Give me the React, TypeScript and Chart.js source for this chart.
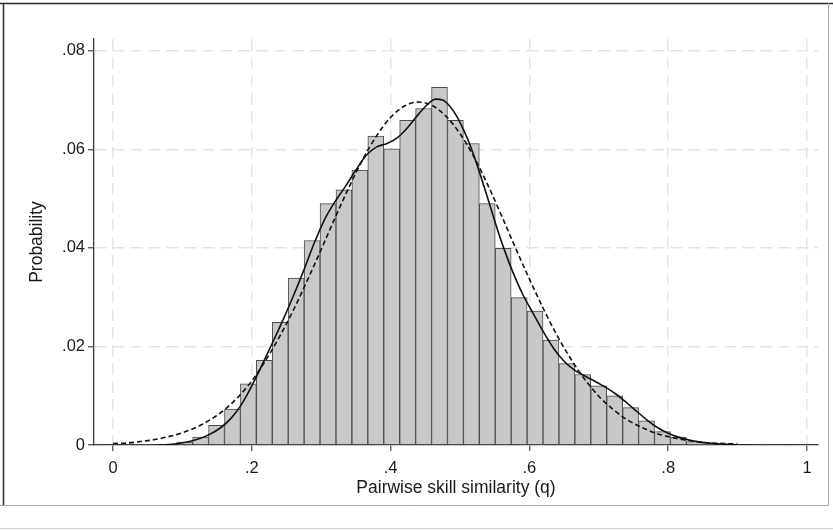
import { useEffect, useRef } from "react";
import { Chart, registerables } from "chart.js";

Chart.register(...registerables);

// Histogram of pairwise skill similarity: equal-width bins starting at BIN_START
const BIN_START = 0.0918;
const BIN_WIDTH = 0.02295;
const binHeights = [
  0.0006, 0.0016, 0.004, 0.0073, 0.0124, 0.0172, 0.0249, 0.0339, 0.0415, 0.049,
  0.0518, 0.0558, 0.0627, 0.0601, 0.0659, 0.0683, 0.0726, 0.0659, 0.0612, 0.049,
  0.0399, 0.0299, 0.0272, 0.0213, 0.0165, 0.0143, 0.012, 0.01, 0.0076, 0.0049,
  0.0027, 0.0016, 0.0007, 0.0003, 0.0002, 0.0001,
];

// Normal density overlay (dashed)
const normalX = [
  0, 0.02, 0.04, 0.06, 0.08, 0.1, 0.12, 0.14, 0.16, 0.18, 0.2, 0.22, 0.24, 0.26,
  0.28, 0.3, 0.32, 0.34, 0.36, 0.38, 0.4, 0.42, 0.44, 0.46, 0.48, 0.5, 0.52, 0.54,
  0.56, 0.58, 0.6, 0.62, 0.64, 0.66, 0.68, 0.7, 0.72, 0.74, 0.76, 0.78, 0.8, 0.82,
  0.84, 0.86, 0.88, 0.9,
];
const normalY = [
  0.0003, 0.0004, 0.0007, 0.0011, 0.0017, 0.0025, 0.0036, 0.0051, 0.0071, 0.0097,
  0.013, 0.0172, 0.022, 0.0274, 0.0334, 0.0397, 0.0461, 0.0523, 0.058, 0.0628,
  0.0665, 0.0688, 0.0696, 0.0689, 0.0667, 0.0632, 0.0585, 0.0528, 0.0465, 0.04,
  0.0337, 0.0277, 0.0222, 0.0174, 0.0133, 0.0099, 0.0073, 0.0052, 0.0037, 0.0025,
  0.0017, 0.0011, 0.0007, 0.0004, 0.0003, 0.0002,
];

// Kernel density estimate (solid)
const kdensX = [
  0.065, 0.08, 0.095, 0.11, 0.125, 0.14, 0.155, 0.17, 0.185, 0.2, 0.215, 0.23,
  0.245, 0.26, 0.275, 0.29, 0.305, 0.32, 0.335, 0.35, 0.365, 0.38, 0.395, 0.41,
  0.425, 0.44, 0.455, 0.465, 0.475, 0.485, 0.495, 0.505, 0.515, 0.525, 0.535,
  0.545, 0.555, 0.565, 0.575, 0.59, 0.605, 0.62, 0.635, 0.65, 0.665, 0.68, 0.695,
  0.71, 0.725, 0.74, 0.755, 0.77, 0.785, 0.8, 0.815, 0.83, 0.845, 0.86, 0.875,
  0.89, 0.905, 0.918,
];
const kdensY = [
  0, 0.0001, 0.0003, 0.0007, 0.0013, 0.0022, 0.0035, 0.0054, 0.0082, 0.012,
  0.0163, 0.0208, 0.0254, 0.0303, 0.0355, 0.041, 0.0458, 0.0494, 0.0525, 0.0558,
  0.0588, 0.0605, 0.0612, 0.0624, 0.0645, 0.0671, 0.0694, 0.0702, 0.07, 0.0688,
  0.0668, 0.064, 0.0607, 0.0567, 0.0523, 0.0478, 0.0433, 0.0392, 0.0355, 0.0307,
  0.0268, 0.023, 0.0196, 0.017, 0.0152, 0.014, 0.0129, 0.0117, 0.0103, 0.0086,
  0.0068, 0.005, 0.0035, 0.0024, 0.0016, 0.001, 0.0006, 0.0004, 0.0002, 0.0001,
  0, 0,
];

const X_TICKS = [0, 0.2, 0.4, 0.6, 0.8, 1];
const X_TICK_LABELS = ["0", ".2", ".4", ".6", ".8", "1"];
const Y_TICKS = [0, 0.02, 0.04, 0.06, 0.08];
const Y_TICK_LABELS = ["0", ".02", ".04", ".06", ".08"];

const X_MIN = -0.0274;
const X_MAX = 1.0159;
const Y_MIN = 0;
const Y_MAX = 0.0824;

const FONT = '"Liberation Sans", Arial, Helvetica, sans-serif';
const TEXT = "#1a1a1a";

// Thin frame around the whole figure
const framePlugin = {
  id: "figureFrame",
  afterDraw(chart: Chart) {
    const { ctx, width } = chart;
    ctx.save();
    ctx.lineWidth = 1.5;
    ctx.strokeStyle = "#2b2b2b";
    ctx.beginPath();
    ctx.moveTo(0, 3.5);
    ctx.lineTo(width, 3.5);
    ctx.moveTo(3.5, 3);
    ctx.lineTo(3.5, 506);
    ctx.stroke();
    ctx.lineWidth = 1;
    ctx.strokeStyle = "#a8a8a8";
    ctx.beginPath();
    ctx.moveTo(828.5, 3);
    ctx.lineTo(828.5, 506);
    ctx.moveTo(0, 505.5);
    ctx.lineTo(829, 505.5);
    ctx.stroke();
    ctx.strokeStyle = "#cfcfcf";
    ctx.beginPath();
    ctx.moveTo(0, 528.5);
    ctx.lineTo(width, 528.5);
    ctx.stroke();
    ctx.restore();
  },
};

export default function App() {
  const canvasRef = useRef<HTMLCanvasElement | null>(null);

  useEffect(() => {
    document.body.style.margin = "0";
    const canvas = canvasRef.current;
    if (!canvas) return;

    const bars = binHeights.map((h, i) => ({ x: BIN_START + (i + 0.5) * BIN_WIDTH, y: h }));
    const normalPts = normalX.map((x, i) => ({ x, y: normalY[i] }));
    const kdensPts = kdensX.map((x, i) => ({ x, y: kdensY[i] }));

    const chart = new Chart(canvas, {
      type: "bar",
      data: {
        datasets: [
          {
            type: "line",
            label: "Kernel density",
            data: kdensPts,
            borderColor: "#111111",
            borderWidth: 1.6,
            pointRadius: 0,
            fill: false,
            cubicInterpolationMode: "monotone",
            order: 0,
          },
          {
            type: "line",
            label: "Normal density",
            data: normalPts,
            borderColor: "#111111",
            borderWidth: 1.6,
            borderDash: [5, 3],
            pointRadius: 0,
            fill: false,
            cubicInterpolationMode: "monotone",
            order: 1,
          },
          {
            type: "bar",
            label: "Probability",
            data: bars,
            backgroundColor: "#c8c8c8",
            borderColor: "#4d4d4d",
            borderWidth: 1,
            barPercentage: 1,
            categoryPercentage: 1,
            order: 2,
          },
        ],
      } as any,
      options: {
        responsive: false,
        animation: false,
        events: [],
        layout: { padding: { left: 20, right: 15, top: 39, bottom: 25 } },
        plugins: {
          legend: { display: false },
          tooltip: { enabled: false },
        },
        scales: {
          x: {
            type: "linear",
            min: X_MIN,
            max: X_MAX,
            offset: false,
            afterBuildTicks: (s: any) => {
              s.ticks = X_TICKS.map((v) => ({ value: v }));
            },
            afterFit: (s: any) => {
              s.height = 60;
            },
            ticks: {
              autoSkip: false,
              maxRotation: 0,
              padding: 8,
              color: TEXT,
              font: { family: FONT, size: 16.5 },
              callback: (v: any) => {
                const i = X_TICKS.findIndex((t) => Math.abs(t - v) < 1e-9);
                return i >= 0 ? X_TICK_LABELS[i] : "";
              },
            },
            grid: {
              offset: false,
              color: "#e4e4e4",
              lineWidth: 1.5,
              drawTicks: true,
              tickLength: 6,
              tickWidth: 1.2,
              tickColor: "#454545",
              tickBorderDash: [],
            } as any,
            border: { display: true, color: "#3c3c3c", width: 1.3, dash: [12, 6] },
            title: {
              display: true,
              text: "Pairwise skill similarity (q)",
              color: TEXT,
              font: { family: FONT, size: 17.5 },
              padding: { top: 0, bottom: 6 },
            },
          },
          y: {
            type: "linear",
            min: Y_MIN,
            max: Y_MAX,
            afterBuildTicks: (s: any) => {
              s.ticks = Y_TICKS.map((v) => ({ value: v }));
            },
            afterFit: (s: any) => {
              s.width = 74;
            },
            ticks: {
              padding: 3,
              color: TEXT,
              font: { family: FONT, size: 16.5 },
              callback: (v: any) => {
                const i = Y_TICKS.findIndex((t) => Math.abs(t - v) < 1e-9);
                return i >= 0 ? Y_TICK_LABELS[i] : "";
              },
            },
            grid: {
              color: "#e4e4e4",
              lineWidth: 1.5,
              drawTicks: true,
              tickLength: 6,
              tickWidth: 1.2,
              tickColor: "#454545",
              tickBorderDash: [],
            } as any,
            border: { display: true, color: "#3c3c3c", width: 1.3, dash: [12, 6] },
            title: {
              display: true,
              text: "Probability",
              color: TEXT,
              font: { family: FONT, size: 17.5 },
              padding: { top: 7, bottom: 0 },
            },
          },
        },
      } as any,
      plugins: [framePlugin],
    });

    return () => chart.destroy();
  }, []);

  return (
    <div style={{ width: 833, height: 530 }}>
      <canvas ref={canvasRef} width={833} height={530} style={{ display: "block" }} />
    </div>
  );
}
